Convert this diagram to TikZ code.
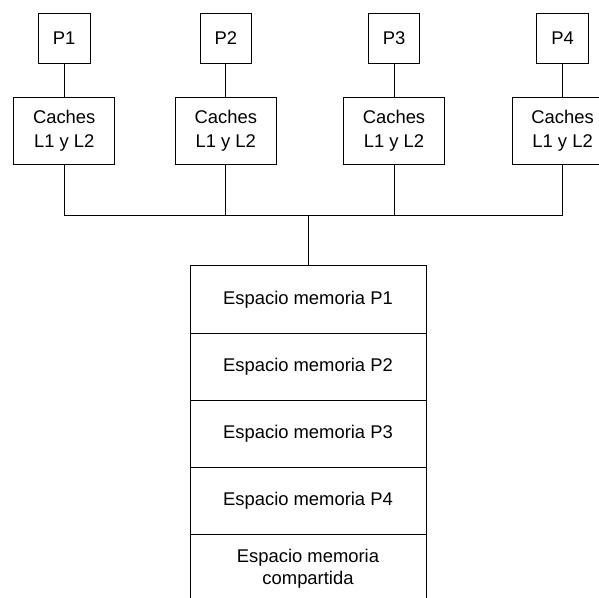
\documentclass[tikz,border=0pt]{standalone}
\usepackage{fontspec}
\setmainfont{Liberation Sans}
\begin{document}
\begin{tikzpicture}[x=1pt,y=-1pt,
  box/.style={draw=black, line width=0.9pt, inner sep=0pt, align=center,
    font=\fontsize{18.4}{24}\selectfont},
  proc/.style={box, minimum width=51.7pt, minimum height=50pt},
  cache/.style={box, minimum width=101pt, minimum height=66.5pt},
  memrow/.style={box, minimum width=236pt, minimum height=67.3pt},
  wire/.style={draw=black, line width=0.9pt}]
\useasboundingbox (0,0) rectangle (599,597);
\clip (0,0) rectangle (599,597);

% processors
\node[proc] (p1) at (64.2,38.3) {P1};
\node[proc] (p2) at (225.8,38.3) {P2};
\node[proc] (p3) at (394,38.3) {P3};
\node[proc] (p4) at (562.6,38.3) {P4};

% private caches
\node[cache] (c1) at (64.2,130.8) {Caches\\L1 y L2};
\node[cache] (c2) at (225.8,130.8) {Caches\\L1 y L2};
\node[cache] (c3) at (394,130.8) {Caches\\L1 y L2};
\node[cache] (c4) at (562.6,130.8) {Caches\\L1 y L2};

% memory map
\node[memrow] (m1) at (308,299.3) {Espacio memoria P1};
\node[memrow] (m2) at (308,366.6) {Espacio memoria P2};
\node[memrow] (m3) at (308,433.9) {Espacio memoria P3};
\node[memrow] (m4) at (308,501.2) {Espacio memoria P4};
\node[memrow, font=\fontsize{18.4}{21.7}\selectfont] (m5) at (308,568.5)
  {Espacio memoria\\compartida};

% processor to cache links
\foreach \i in {1,...,4} \draw[wire] (p\i) -- (c\i);

% shared bus
\coordinate (j) at (308,215);
\draw[wire] (c1.south) -- (c1.south |- j) -- (c4.south |- j) -- (c4.south);
\draw[wire] (c2.south) -- (c2.south |- j);
\draw[wire] (c3.south) -- (c3.south |- j);
\draw[wire] (j) -- (m1.north);
\end{tikzpicture}
\end{document}
